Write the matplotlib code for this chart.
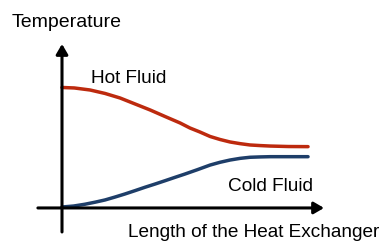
import matplotlib
matplotlib.use("Agg")
import matplotlib.pyplot as plt

plt.rcParams["font.family"] = ["Liberation Sans", "DejaVu Sans"]

# position along the exchanger (% of length) and temperature (arbitrary units)
hot_length = [0, 5, 11.4, 17.5, 23.6, 29.7, 35.8, 41.9, 48.0, 52.0, 56.0,
              60.2, 64.2, 68.3, 72.4, 76.4, 80.5, 84.6, 92, 100]
hot_temp = [100, 99.6, 97.9, 95.0, 91.2, 86.2, 81.2, 75.7, 70.3, 66.1, 62.8,
            59.0, 56.5, 54.4, 53.0, 51.9, 51.4, 51.0, 50.6, 50.5]

cold_length = [0, 4.7, 9.3, 13.4, 17.5, 21.5, 25.6, 29.7, 33.7, 37.8, 41.9,
               45.9, 50.0, 55.0, 60.2, 64.2, 68.3, 72.4, 76.4, 80.5, 84.6, 92, 100]
cold_temp = [0, 0.8, 2.3, 4.0, 5.9, 8.3, 10.9, 13.7, 16.5, 19.2, 22.0,
             24.8, 27.6, 31.2, 35.1, 37.4, 39.3, 40.7, 41.6, 41.9, 42.1, 42.1, 42.1]

x_label = "Length of the Heat Exchanger"
y_label = "Temperature"
hot_label = "Hot Fluid"
cold_label = "Cold Fluid"

fig = plt.figure(figsize=(3.88, 2.41), dpi=100)
ax = fig.add_axes([0, 0, 1, 1])
ax.set_xlim(-25.2, 132.5)
ax.set_ylim(-28.45, 173.2)
ax.axis("off")

# hand-drawn style axes with arrow heads
arrow = dict(arrowstyle="-|>,head_length=0.6,head_width=0.35", color="black",
             lw=2.2, shrinkA=0, shrinkB=0)
ax.annotate("", xy=(106.5, -0.8), xytext=(-9.8, -0.8), arrowprops=arrow)
ax.annotate("", xy=(0, 136.4), xytext=(0, -20.9), arrowprops=arrow)

ax.plot(hot_length, hot_temp, color="#BD2A0E", lw=2.5,
        solid_capstyle="round", solid_joinstyle="round")
ax.plot(cold_length, cold_temp, color="#1E3E69", lw=2.5,
        solid_capstyle="round", solid_joinstyle="round")

ax.text(-20.3, 150.5, y_label, fontsize=14, ha="left", va="baseline")
ax.text(11.7, 103.5, hot_label, fontsize=13.7, ha="left", va="baseline")
ax.text(67.4, 13.4, cold_label, fontsize=13.7, ha="left", va="baseline")
ax.text(26.8, -25.1, x_label, fontsize=13.7, ha="left", va="baseline")

fig.savefig("out.png", dpi=100)
